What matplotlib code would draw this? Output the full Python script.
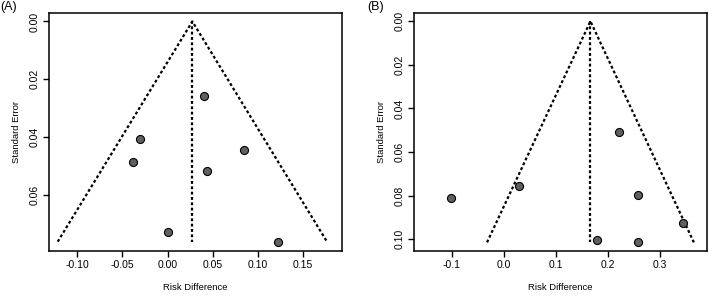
import numpy as np
import matplotlib
matplotlib.use('Agg')
import matplotlib.pyplot as plt

plt.rcParams['font.family'] = ['Liberation Sans', 'DejaVu Sans']

# panel A: risk difference vs standard error
rd_a = [0.040, -0.030, -0.038, 0.085, 0.044, 0.000, 0.122]
se_a = [0.0258, 0.0407, 0.0484, 0.0443, 0.0518, 0.0729, 0.0761]
pooled_a = 0.0275
xticks_a = [-0.10, -0.05, 0.00, 0.05, 0.10, 0.15]
yticks_a = [0.00, 0.02, 0.04, 0.06]

# panel B
rd_b = [0.222, 0.029, -0.102, 0.258, 0.344, 0.179, 0.258]
se_b = [0.0509, 0.0754, 0.0809, 0.0797, 0.0925, 0.1002, 0.1014]
pooled_b = 0.1665
xticks_b = [-0.1, 0.0, 0.1, 0.2, 0.3]
yticks_b = [0.00, 0.02, 0.04, 0.06, 0.08, 0.10]

fig = plt.figure(figsize=(7.09, 2.97), dpi=100)
ax1 = fig.add_axes([0.0695, 0.156, 0.4125, 0.801])
ax2 = fig.add_axes([0.584, 0.156, 0.4128, 0.801])


def funnel(ax, rd, se, pooled, xticks, yticks, xlim, ylim, xfmt):
    smax = max(se)
    ax.plot([pooled - 1.96 * smax, pooled, pooled + 1.96 * smax], [smax, 0, smax],
            color='black', linestyle=(0, (1.3, 1.1)), lw=1.6)
    ax.plot([pooled, pooled], [0, smax], color='black', linestyle=(0, (1.3, 1.1)), lw=1.6)
    ax.plot(rd, se, 'o', ms=5.8, mfc='#606060', mec='black', mew=0.8)
    ax.set_xlim(*xlim)
    ax.set_ylim(*ylim)
    ax.set_xticks(xticks)
    ax.set_xticklabels([xfmt % t for t in xticks])
    ax.set_yticks(yticks)
    ax.set_yticklabels(['%.2f' % t for t in yticks], rotation=90, va='center')
    ax.tick_params(direction='out', length=4, width=1, labelsize=7.5, pad=3)
    for s in ax.spines.values():
        s.set_linewidth(1.1)
    ax.set_xlabel('Risk Difference', fontsize=6.8, labelpad=9)
    ax.set_ylabel('Standard Error', fontsize=6.8, labelpad=6)


funnel(ax1, rd_a, se_a, pooled_a, xticks_a, yticks_a, (-0.131, 0.193), (0.0792, -0.0030), '%.2f')
funnel(ax2, rd_b, se_b, pooled_b, xticks_b, yticks_b, (-0.1725, 0.390), (0.1052, -0.0039), '%.1f')

fig.text(0.001, 0.998, '(A)', fontsize=9, ha='left', va='top')
fig.text(367 / 709, 0.998, '(B)', fontsize=9, ha='left', va='top')

fig.savefig('out.png', dpi=100)
